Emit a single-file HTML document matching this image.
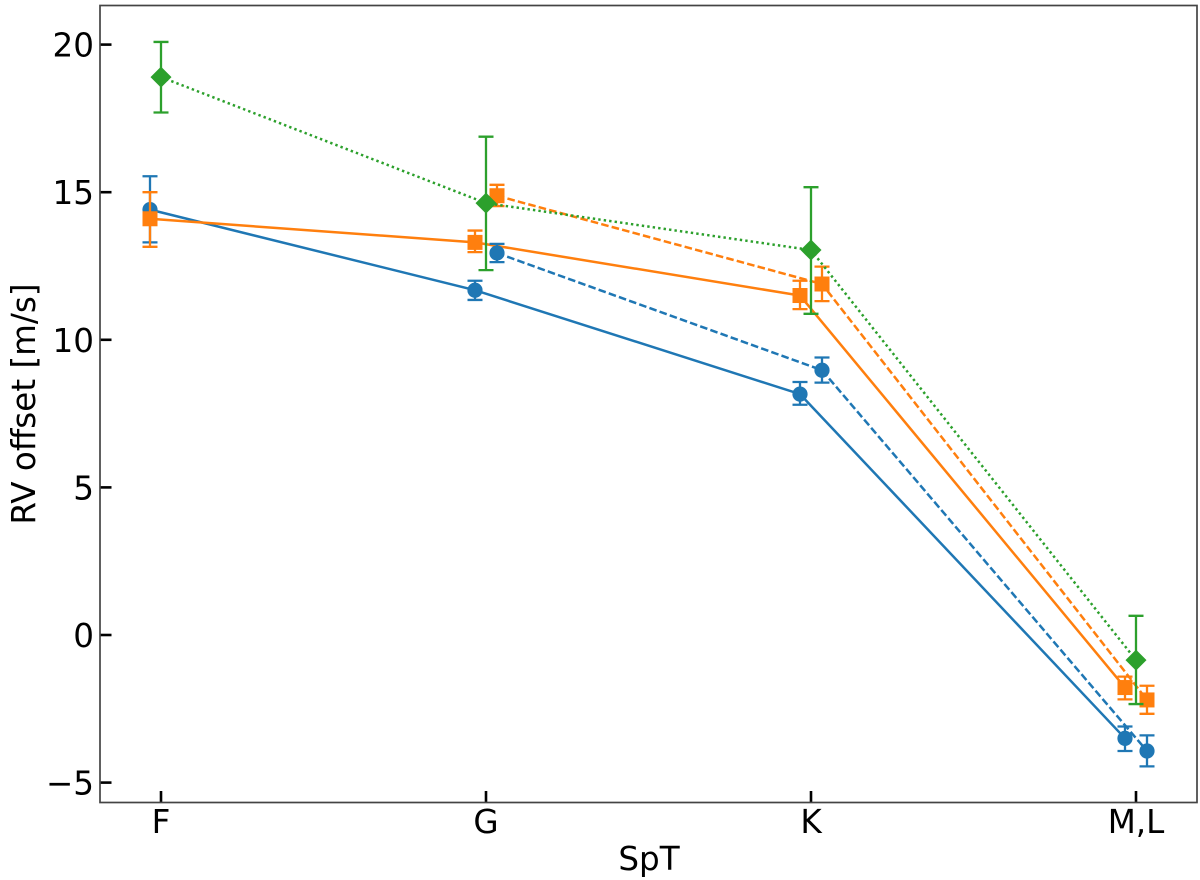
<!DOCTYPE html>
<html>
<head>
<meta charset="utf-8">
<style>
html,body{margin:0;padding:0;background:#fff;width:1200px;height:880px;overflow:hidden}
svg{display:block}
text{font-family:"DejaVu Sans","Liberation Sans",sans-serif;font-size:32.6px;fill:#000}
</style>
</head>
<body>
<svg id="chart" xmlns="http://www.w3.org/2000/svg" width="1200" height="880" viewBox="0 0 1200 880">
<rect width="1200" height="880" fill="#fff"/>
<text x="649" y="870" text-anchor="middle">SpT</text>
<text transform="translate(35,404) rotate(-90)" text-anchor="middle">RV offset [m/s]</text>
</svg>
<script>
const categories = ['F', 'G', 'K', 'M,L'];
const yTickValues = [-5, 0, 5, 10, 15, 20];
const yTickLabels = ['\u22125', '0', '5', '10', '15', '20'];

const blueSolidValues = [14.41, 11.68, 8.16, -3.5];
const blueSolidUpper = [15.54, 12.0, 8.57, -3.1];
const blueSolidLower = [13.3, 11.35, 7.8, -3.93];

const orangeSolidValues = [14.1, 13.3, 11.5, -1.78];
const orangeSolidUpper = [15.0, 13.7, 12.0, -1.41];
const orangeSolidLower = [13.15, 12.97, 11.04, -2.18];

const blueDashedValues = [null, 12.94, 8.97, -3.93];
const blueDashedUpper = [null, 13.25, 9.4, -3.4];
const blueDashedLower = [null, 12.63, 8.55, -4.45];

const orangeDashedValues = [null, 14.88, 11.89, -2.2];
const orangeDashedUpper = [null, 15.25, 12.48, -1.72];
const orangeDashedLower = [null, 14.53, 11.31, -2.67];

const greenDottedValues = [18.9, 14.63, 13.04, -0.85];
const greenDottedUpper = [20.09, 16.88, 15.17, 0.65];
const greenDottedLower = [17.7, 12.36, 10.88, -2.34];

const svg = document.getElementById('chart');
const NS = 'http://www.w3.org/2000/svg';
const plot = { left: 100, right: 1197, top: 5.5, bottom: 802.5 };

function xScale(i, off) { return 161 + 325 * i + off; }
function yScale(v) { return 635 - 29.52 * v; }

function make(tag, attrs, parent) {
  const el = document.createElementNS(NS, tag);
  for (const k in attrs) el.setAttribute(k, attrs[k]);
  (parent || svg).appendChild(el);
  return el;
}

function drawSeries(name, values, upper, lower, color, off, dash, marker) {
  const g = make('g', {});
  
  
  const pts = [];
  values.forEach(function (v, i) {
    if (v !== null) pts.push(xScale(i, off) + ',' + yScale(v));
  });
  const line = make('polyline', { points: pts.join(' '), fill: 'none', stroke: color, 'stroke-width': 2.5, 'stroke-dasharray': dash }, g);
  
  
  values.forEach(function (v, i) {
    if (v === null) return;
    const x = xScale(i, off);
    const y = yScale(v);
    const top = yScale(upper[i]);
    const bot = yScale(lower[i]);
    const err = make('path', {
      d: 'M' + x + ' ' + top + 'V' + bot +
         'M' + (x - 7.5) + ' ' + top + 'H' + (x + 7.5) +
         'M' + (x - 7.5) + ' ' + bot + 'H' + (x + 7.5),
      fill: 'none', stroke: color, 'stroke-width': 2.3
    }, g);
    
    
    let m;
    if (marker === 'circle') {
      m = make('circle', { cx: x, cy: y, r: 7.6, fill: color }, g);
    } else if (marker === 'square') {
      m = make('rect', { x: x - 7.5, y: y - 7.5, width: 15, height: 15, fill: color }, g);
    } else {
      m = make('polygon', {
        points: x + ',' + (y - 10.5) + ' ' + (x + 10.5) + ',' + y + ' ' + x + ',' + (y + 10.5) + ' ' + (x - 10.5) + ',' + y,
        fill: color
      }, g);
    }
    
    
  });
}

drawSeries('blue-solid', blueSolidValues, blueSolidUpper, blueSolidLower, '#1f77b4', -11, 'none', 'circle');
drawSeries('orange-solid', orangeSolidValues, orangeSolidUpper, orangeSolidLower, '#ff7f0e', -11, 'none', 'square');
drawSeries('blue-dashed', blueDashedValues, blueDashedUpper, blueDashedLower, '#1f77b4', 11, '7.6 3.2', 'circle');
drawSeries('orange-dashed', orangeDashedValues, orangeDashedUpper, orangeDashedLower, '#ff7f0e', 11, '7.6 3.2', 'square');
drawSeries('green-dotted', greenDottedValues, greenDottedUpper, greenDottedLower, '#2ca02c', 0, '2.4 3.1', 'diamond');

categories.forEach(function (c, i) {
  const x = xScale(i, 0);
  const tick = make('line', { x1: x, x2: x, y1: plot.bottom - 11.5, y2: plot.bottom, stroke: '#000', 'stroke-width': 2.6 });
  
  
  const label = make('text', { x: x, y: 833, 'text-anchor': 'middle' });
  label.textContent = c;
  
  
});

yTickValues.forEach(function (v, i) {
  const y = yScale(v);
  const tick = make('line', { x1: plot.left, x2: plot.left + 11.5, y1: y, y2: y, stroke: '#000', 'stroke-width': 2.6 });
  
  
  const label = make('text', { x: 94, y: y + 12, 'text-anchor': 'end' });
  label.textContent = yTickLabels[i];
  
  
});

const frame = make('rect', {
  x: plot.left, y: plot.top,
  width: plot.right - plot.left, height: plot.bottom - plot.top,
  fill: 'none', stroke: '#444', 'stroke-width': 1.7
});


</script>
</body>
</html>
